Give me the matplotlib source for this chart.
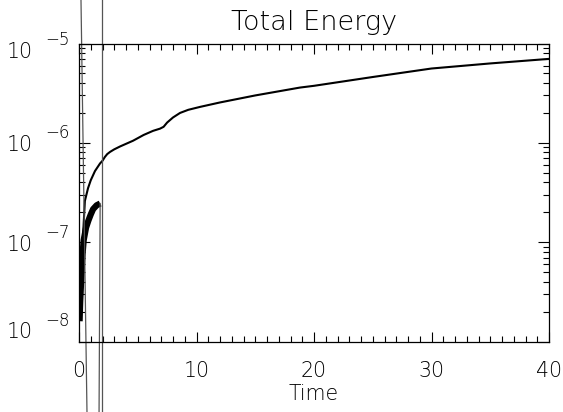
import matplotlib
matplotlib.use("Agg")
import matplotlib.pyplot as plt
from matplotlib.ticker import FixedLocator, LogLocator, NullFormatter, MultipleLocator

plt.rcParams['font.family'] = ['DejaVu Sans']
FW = 'light'

# Main energy curve
t_main = [0.2, 0.35, 0.5, 0.77, 1.0, 1.36, 1.79, 2.0, 2.2, 2.4, 2.64, 3.0, 3.5, 4.6, 5.5, 6.3, 6.9,
          7.2, 7.5, 8.0, 8.6, 9.3, 10.3, 12, 15, 18.8, 20, 25, 30, 35, 40]
e_main = [5e-8, 1.2e-7, 2.6e-7, 3.5e-7, 4.2e-7, 5.2e-7, 6.2e-7, 6.6e-7, 7.2e-7, 7.7e-7, 8.1e-7,
          8.6e-7, 9.2e-7, 1.05e-6, 1.2e-6, 1.32e-6, 1.39e-6, 1.45e-6, 1.6e-6, 1.8e-6, 2.0e-6,
          2.15e-6, 2.3e-6, 2.55e-6, 3.0e-6, 3.6e-6, 3.75e-6, 4.6e-6, 5.6e-6, 6.3e-6, 7.0e-6]

# Early thick curve
t_early = [0.05, 0.1, 0.2, 0.3, 0.4, 0.6, 0.8, 1.0, 1.2, 1.5, 1.8]
e_early = [1.6e-8, 2.5e-8, 4.5e-8, 7.5e-8, 1.05e-7, 1.4e-7, 1.65e-7, 1.9e-7, 2.15e-7, 2.35e-7, 2.45e-7]

# Off-range stray segments
t_drop = [1.8, 1.65]
e_drop = [2.45e-7, 1e-10]
t_slope = [0.17, 0.68]
e_slope = [10 ** -4.567, 10 ** -8.716]
t_vert = [1.93, 1.93]
e_vert = [1e-3, 1e-10]

x_ticks = [0, 10, 20, 30, 40]
x_labels = ['0', '10', '20', '30', '40']
y_ticks = [1e-8, 1e-7, 1e-6, 1e-5]
y_exps = ['\u22128', '\u22127', '\u22126', '\u22125']
y_label_shift = [3, -8.5, -8, -14.5]   # pixel baseline shift of "10" relative to tick

fig = plt.figure(figsize=(5.63, 4.12), dpi=100)
ax = fig.add_axes([79 / 563, 70.5 / 412, 470 / 563, 298 / 412])
ax.set_yscale('log')
ax.set_xlim(0, 40)
ax.set_ylim(1e-8, 1e-5)

ax.plot(t_main, e_main, color='black', lw=1.5)
ax.plot(t_early, e_early, color='black', lw=4.5, solid_capstyle='butt')
ax.plot(t_drop, e_drop, color='#555555', lw=0.9, clip_on=False)
ax.plot(t_slope, e_slope, color='#555555', lw=0.9, clip_on=False)
ax.plot(t_vert, e_vert, color='#555555', lw=0.9, clip_on=False)

ax.xaxis.set_major_locator(FixedLocator(x_ticks))
ax.set_xticklabels(x_labels, fontsize=14.8, fontweight=FW)
ax.xaxis.set_minor_locator(MultipleLocator(1))
ax.yaxis.set_major_locator(FixedLocator(y_ticks))
ax.yaxis.set_major_formatter(NullFormatter())
ax.yaxis.set_minor_locator(LogLocator(base=10, subs=range(2, 10)))
ax.yaxis.set_minor_formatter(NullFormatter())

ax.tick_params(which='both', direction='in', top=True, right=True, width=0.8, colors='black')
ax.tick_params(which='major', length=7)
ax.tick_params(axis='x', which='major', pad=14)
ax.tick_params(which='minor', length=4)
ax.tick_params(axis='y', which='major', length=8)

# y tick labels in IDL style: "10" with raised exponent
ytrans = ax.get_yaxis_transform()
for yv, ex, sh in zip(y_ticks, y_exps, y_label_shift):
    ax.annotate('10', xy=(0, yv), xycoords=ytrans, xytext=(-46, sh),
                textcoords='offset pixels', ha='right', va='baseline',
                fontsize=14.8, fontweight=FW, annotation_clip=False)
    ax.annotate(ex, xy=(0, yv), xycoords=ytrans, xytext=(-9, sh + 13),
                textcoords='offset pixels', ha='right', va='baseline',
                fontsize=12, fontweight=FW, annotation_clip=False)

for sp in ax.spines.values():
    sp.set_linewidth(0.9)

ax.set_title('Total Energy', fontsize=19.5, pad=9.7, fontweight=FW)
ax.set_xlabel('Time', fontsize=14.8, labelpad=2, fontweight=FW)

fig.savefig('out.png', dpi=100)
